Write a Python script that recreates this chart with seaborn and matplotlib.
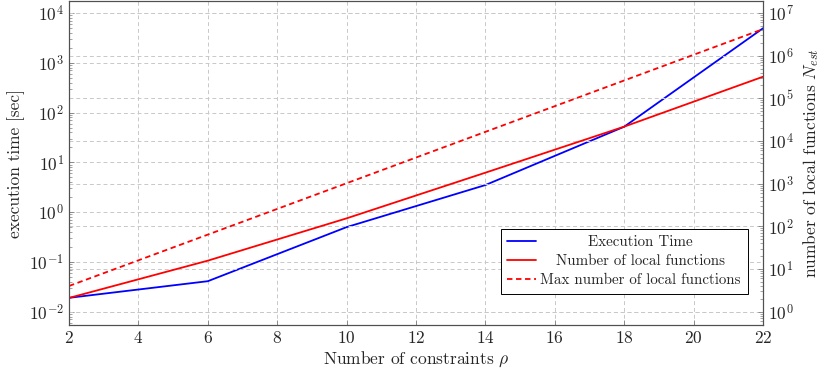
import numpy as np
import pandas as pd
import matplotlib
matplotlib.use("Agg")
import matplotlib.pyplot as plt
import seaborn as sns
from matplotlib.ticker import LogLocator, NullFormatter, LogFormatterMathtext

# valores
rho = [2, 6, 10, 14, 18, 22]
exec_time = [0.019, 0.041, 0.50, 3.5, 52, 4930]
n_local = [2.1, 15.7, 154, 1810, 21700, 321000]
n_local_max = [4, 64, 1024, 16384, 262144, 4194304]

left_ticks = [1e-2, 1e-1, 1e0, 1e1, 1e2, 1e3, 1e4]
right_ticks = [1e0, 1e1, 1e2, 1e3, 1e4, 1e5, 1e6, 1e7]
x_ticks = [2, 4, 6, 8, 10, 12, 14, 16, 18, 20, 22]

df = pd.DataFrame({"rho": rho, "exec_time": exec_time,
                   "n_local": n_local, "n_local_max": n_local_max})

sns.set_style("ticks")
plt.rcParams["font.family"] = ["cmr10", "DejaVu Serif"]
plt.rcParams["mathtext.fontset"] = "cm"
plt.rcParams["axes.formatter.use_mathtext"] = True
plt.rcParams["axes.unicode_minus"] = False

fs = 12.5
fs_leg = 10.8
grid_kw = dict(color="#c8c8c8", linestyle=(0, (4, 3)), linewidth=0.7)
spine_col = "#505050"

fig = plt.figure(figsize=(8.23, 3.72), dpi=100)
ax = fig.add_axes([69 / 823, 1 - 325 / 372, (763 - 69) / 823, (325 - 1) / 372])
ax2 = ax.twinx()

# linha azul no eixo esquerdo
sns.lineplot(data=df, x="rho", y="exec_time", ax=ax, color="#0000ff",
             linewidth=1.3, label="Execution Time", legend=False)
# linhas vermelhas no eixo direito
sns.lineplot(data=df, x="rho", y="n_local", ax=ax2, color="#ff0000",
             linewidth=1.3, label="Number of local functions", legend=False)
sns.lineplot(data=df, x="rho", y="n_local_max", ax=ax2, color="#ff0000",
             linewidth=1.3, label="Max number of local functions", legend=False)
ax2.lines[-1].set_dashes((3, 2))

ax.set_yscale("log")
ax2.set_yscale("log")
ax.set_xticks(x_ticks)
ax.set_yticks(left_ticks)
ax2.set_yticks(right_ticks)
ax.set_xlim(2, 22)
ax.set_ylim(10 ** -2.267, 10 ** 4.241)
ax2.set_ylim(10 ** -0.312, 10 ** 7.281)

for a in (ax, ax2):
    a.yaxis.set_major_formatter(LogFormatterMathtext())
    a.yaxis.set_minor_locator(LogLocator(base=10, subs=np.arange(2, 10), numticks=20))
    a.yaxis.set_minor_formatter(NullFormatter())
    a.grid(True, which="major", axis="y", **grid_kw)
    a.tick_params(axis="both", which="both", direction="in", labelsize=fs,
                  color="#808080")
    a.tick_params(which="major", length=3.5, width=0.6)
    a.tick_params(which="minor", length=2, width=0.5)
    for s in a.spines.values():
        s.set_color(spine_col)
        s.set_linewidth(0.8)
ax.grid(True, which="major", axis="x", **grid_kw)
ax.set_axisbelow(True)
ax2.set_axisbelow(True)

ax.set_xlabel(r"Number of constraints $\rho$", fontsize=fs, labelpad=3)
ax.set_ylabel("execution time [sec]", fontsize=fs, labelpad=3)
ax2.set_ylabel(r"number of local functions $N_{est}$", fontsize=fs, labelpad=5)

handles = ax.get_lines()[:1] + ax2.get_lines()[:2]
labels = [h.get_label() for h in handles]
leg = ax2.legend(handles, labels, loc="lower right", bbox_to_anchor=(0.978, 0.096),
                 borderaxespad=0, fontsize=fs_leg, frameon=True, fancybox=False,
                 framealpha=1, edgecolor="black", handlelength=1.9,
                 handletextpad=0.3, borderpad=0.45, labelspacing=0.35)
leg.get_frame().set_linewidth(0.7)

# centralizar os textos da legenda, como no original
fig.canvas.draw()
texts = leg.get_texts()
ws = [t.get_window_extent().width for t in texts]
for t, w in zip(texts, ws):
    t.set_x((max(ws) - w) / 2)

fig.savefig("out.png", dpi=100)
